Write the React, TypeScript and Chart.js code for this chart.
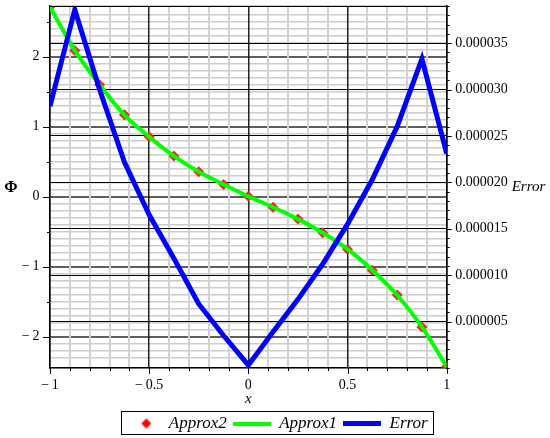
import React, { useEffect, useRef } from 'react';
import { Chart, registerables } from 'chart.js';

Chart.register(...registerables);

// ---- data ----
const xValues = [-1, -0.875, -0.75, -0.625, -0.5, -0.375, -0.25, -0.125, 0, 0.125, 0.25, 0.375, 0.5, 0.625, 0.75, 0.875, 1];
const approx2Values = [2.71, 2.09, 1.6, 1.17, 0.855, 0.58, 0.355, 0.175, 0.005, -0.15, -0.32, -0.515, -0.75, -1.05, -1.405, -1.86, -2.43];
const approx1Values = [2.71, 2.09, 1.6, 1.17, 0.855, 0.58, 0.355, 0.175, 0.005, -0.15, -0.32, -0.515, -0.75, -1.05, -1.405, -1.86, -2.43];
const errorValues = [0.0000282, 0.0000386, 0.00003, 0.0000222, 0.0000165, 0.0000118, 0.0000069, 0.0000035, 0.0000003, 0.0000039, 0.0000074, 0.0000112, 0.0000155, 0.0000203, 0.000026, 0.0000333, 0.0000231];

const xMajorTicks = [-1, -0.5, 0, 0.5, 1];
const phiMajorTicks = [-2, -1, 0, 1, 2];
const errorMajorTicks = [0.000005, 0.00001, 0.000015, 0.00002, 0.000025, 0.00003, 0.000035];
const seriesNames = ['Approx2', 'Approx1', 'Error'];

const SERIF = "'Liberation Serif', 'Times New Roman', serif";

const near = (a: number, b: number, eps: number) => Math.abs(a - b) < eps;
const isIn = (v: number, arr: number[], eps: number) => arr.some((a) => near(a, v, eps));
const fmtNum = (v: number) => (v < 0 ? '\u2212\u2009' + String(Math.abs(v)) : String(v));

function makeIcon(kind: 'diamond' | 'green' | 'blue'): HTMLCanvasElement {
  const c = document.createElement('canvas');
  const g = c.getContext('2d')!;
  if (kind === 'diamond') {
    c.width = 38; c.height = 12;
    g.fillStyle = '#ff0000';
    g.beginPath();
    g.moveTo(24, 1); g.lineTo(29, 6); g.lineTo(24, 11); g.lineTo(19, 6);
    g.closePath(); g.fill();
  } else {
    c.width = 38; c.height = kind === 'green' ? 4 : 5;
    g.fillStyle = kind === 'green' ? '#00ff00' : '#0000ff';
    g.fillRect(0, 0, 38, c.height);
  }
  return c;
}

const decorPlugin = {
  id: 'decor',
  afterDraw(chart: any) {
    const { ctx, chartArea: ca, scales } = chart;
    const xs = scales.x, ys = scales.y, y1 = scales.y1;
    ctx.save();
    ctx.strokeStyle = '#000';
    ctx.lineWidth = 1;
    // x tick marks
    xs.ticks.forEach((t: any) => {
      const len = isIn(t.value, xMajorTicks, 1e-6) ? 6 : 3;
      const px = Math.round(xs.getPixelForValue(t.value)) + 0.5;
      ctx.beginPath(); ctx.moveTo(px, ca.bottom); ctx.lineTo(px, ca.bottom + len); ctx.stroke();
    });
    // left tick marks (every 0.5)
    ys.ticks.forEach((t: any) => {
      const v = t.value;
      if (!near(v * 2, Math.round(v * 2), 1e-6)) return;
      const len = near(v, Math.round(v), 1e-6) ? 7 : 3;
      const py = Math.round(ys.getPixelForValue(v)) + 0.5;
      ctx.beginPath(); ctx.moveTo(ca.left - len, py); ctx.lineTo(ca.left, py); ctx.stroke();
    });
    // right tick marks
    y1.ticks.forEach((t: any) => {
      const v = t.value;
      const len = isIn(v, errorMajorTicks, 1e-9) ? 5 : 3;
      const py = Math.round(y1.getPixelForValue(v)) + 0.5;
      ctx.beginPath(); ctx.moveTo(ca.right, py); ctx.lineTo(ca.right + len, py); ctx.stroke();
    });
    // top border
    ctx.beginPath(); ctx.moveTo(ca.left, ca.top + 0.5); ctx.lineTo(ca.right, ca.top + 0.5); ctx.stroke();
    // axis titles (horizontal)
    const mid = (ca.top + ca.bottom) / 2;
    ctx.fillStyle = '#000';
    ctx.textBaseline = 'middle';
    ctx.textAlign = 'center';
    ctx.font = `bold 16px ${SERIF}`;
    ctx.fillText('\u03A6', 11, mid + 1);
    ctx.textAlign = 'left';
    ctx.font = `italic 15px ${SERIF}`;
    ctx.fillText('Error', ca.right + 65, mid);
    // legend frame
    const hb = chart.legend && chart.legend.legendHitBoxes;
    if (hb && hb.length) {
      const first = hb[0];
      const last = hb[hb.length - 1];
      const left = first.left - 1;
      const right = last.left + last.width + 6;
      const cy = first.top + first.height / 2;
      ctx.lineWidth = 1;
      ctx.strokeStyle = '#000';
      ctx.strokeRect(Math.round(left) + 0.5, Math.round(cy - 12.5) + 0.5, Math.round(right - left), 23);
    }
    ctx.restore();
  },
};

export default function App() {
  const ref = useRef<HTMLCanvasElement | null>(null);

  useEffect(() => {
    if (!ref.current) return;
    const icons = [makeIcon('diamond'), makeIcon('green'), makeIcon('blue')];
    const pts = (ys: number[]) => xValues.map((x, i) => ({ x, y: ys[i] }));

    const chart = new Chart(ref.current, {
      type: 'line',
      data: {
        datasets: [
          {
            label: seriesNames[0],
            data: pts(approx2Values),
            showLine: false,
            pointStyle: 'rectRot',
            pointRadius: 5.5,
            pointBackgroundColor: '#ff2020',
            pointBorderColor: '#ff2020',
            pointBorderWidth: 0,
            backgroundColor: '#ff0000',
            borderColor: '#ff0000',
            yAxisID: 'y',
            order: 3,
          },
          {
            label: seriesNames[1],
            data: pts(approx1Values),
            borderColor: '#00ff00',
            backgroundColor: '#00ff00',
            borderWidth: 4,
            pointRadius: 0,
            cubicInterpolationMode: 'monotone',
            yAxisID: 'y',
            order: 2,
          },
          {
            label: seriesNames[2],
            data: pts(errorValues),
            borderColor: '#0000ff',
            backgroundColor: '#0000ff',
            borderWidth: 5,
            pointRadius: 0,
            tension: 0,
            yAxisID: 'y1',
            order: 1,
          },
        ],
      } as any,
      options: {
        animation: false,
        responsive: false,
        maintainAspectRatio: false,
        events: [],
        layout: { padding: { top: 6, left: 0, right: 0, bottom: 0 } },
        plugins: {
          tooltip: { enabled: false },
          legend: {
            position: 'bottom',
            labels: {
              usePointStyle: true,
              pointStyleWidth: 38,
              padding: 6,
              color: '#000',
              font: { family: SERIF, size: 17, style: 'italic' },
              sort: (a: any, b: any) => a.datasetIndex - b.datasetIndex,
              generateLabels: (ch: any) => {
                const items = (Chart.defaults.plugins.legend.labels.generateLabels as any)(ch);
                return items.map((it: any) => ({ ...it, pointStyle: icons[it.datasetIndex], lineWidth: 0 }));
              },
            },
          },
        },
        scales: {
          x: {
            type: 'linear',
            min: -1,
            max: 1,
            afterFit: (s: any) => { s.height = 41; s.paddingLeft = 0; s.paddingRight = 0; },
            ticks: {
              stepSize: 0.1,
              autoSkip: false,
              maxRotation: 0,
              minRotation: 0,
              padding: 9,
              color: '#000',
              font: { family: SERIF, size: 14 },
              callback: (v: any) => (isIn(Number(v), xMajorTicks, 1e-6) ? fmtNum(Math.round(Number(v) * 10) / 10) : ''),
            },
            grid: {
              z: -1,
              drawTicks: false,
              color: (c: any) => (isIn(c.tick.value, xMajorTicks, 1e-6) ? '#222222' : '#d2d2d2'),
              lineWidth: (c: any) => (isIn(c.tick.value, xMajorTicks, 1e-6) ? 1.5 : 2),
            },
            border: { display: true, color: '#000', width: 1.5 },
            title: { display: true, text: 'x', color: '#000', font: { family: SERIF, size: 15, style: 'italic' }, padding: { top: 0, bottom: 1 } },
          },
          y: {
            type: 'linear',
            position: 'left',
            min: -2.447,
            max: 2.724,
            afterFit: (s: any) => { s.width = 50; s.paddingTop = 0; s.paddingBottom = 0; },
            ticks: {
              stepSize: 0.1,
              autoSkip: false,
              padding: 10.5,
              color: '#000',
              font: { family: SERIF, size: 14 },
              callback: (v: any) => (isIn(Number(v), phiMajorTicks, 1e-6) ? fmtNum(Math.round(Number(v))) : ''),
            },
            grid: {
              z: -2,
              drawTicks: false,
              color: (c: any) => (isIn(c.tick.value, phiMajorTicks, 1e-6) ? '#5e5e5e' : '#cccccc'),
              lineWidth: (c: any) => (isIn(c.tick.value, phiMajorTicks, 1e-6) ? 2 : 1.5),
            },
            border: { display: true, color: '#000', width: 1.5 },
          },
          y1: {
            type: 'linear',
            position: 'right',
            min: 0,
            max: 0.000039,
            afterFit: (s: any) => { s.width = 103.3; s.paddingTop = 0; s.paddingBottom = 0; },
            ticks: {
              stepSize: 0.000001,
              autoSkip: false,
              padding: 8.5,
              color: '#000',
              font: { family: SERIF, size: 14 },
              callback: (v: any) => (isIn(Number(v), errorMajorTicks, 1e-9) ? Number(v).toFixed(6) : ''),
            },
            grid: {
              z: -0.5,
              drawTicks: false,
              color: (c: any) => (isIn(c.tick.value, errorMajorTicks, 1e-9) ? '#000000' : 'rgba(0,0,0,0)'),
              lineWidth: 1,
            },
            border: { display: true, color: '#000', width: 1.5 },
          },
        },
      } as any,
      plugins: [decorPlugin],
    });
    return () => chart.destroy();
  }, []);

  return (
    <div style={{ position: 'fixed', left: 0, top: 0, width: 550, height: 442, background: '#fff' }}>
      <canvas ref={ref} width={550} height={442} style={{ display: 'block', width: 550, height: 442 }} />
    </div>
  );
}
